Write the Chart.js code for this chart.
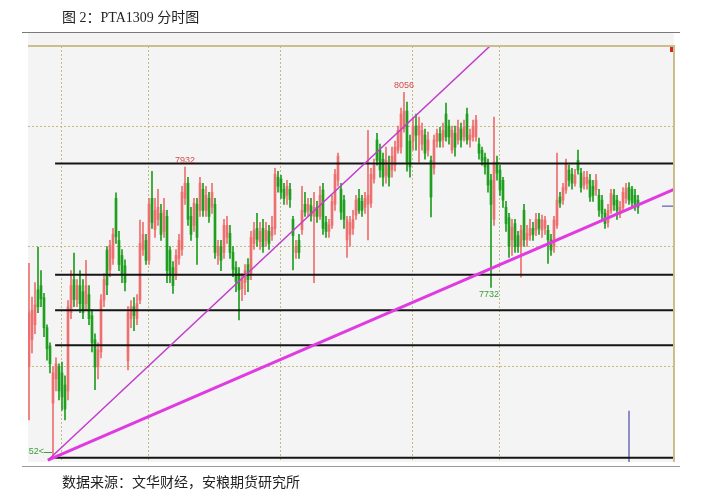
<!DOCTYPE html>
<html><head><meta charset="utf-8">
<script src="https://cdn.jsdelivr.net/npm/chart.js@4"></script>
<style>
html,body{margin:0;padding:0;background:#fff;}
#wrap{position:relative;width:701px;height:500px;overflow:hidden;}
canvas{position:absolute;left:0;top:0;}
.t{position:absolute;font-family:"Liberation Serif","Noto Sans CJK SC",serif;font-size:14px;color:#222;white-space:nowrap;line-height:16px;}
.rule{position:absolute;left:22px;width:658px;}
</style></head>
<body><div id="wrap">
<canvas id="c" width="701" height="500"></canvas>
<div class="t" style="left:62px;top:10px">图 2：PTA1309 分时图</div>
<div class="rule" style="top:32px;height:1px;background:#7a7a7a"></div>
<div class="rule" style="top:466px;height:1px;background:#999"></div>
<div class="t" style="left:62px;top:475px">数据来源：文华财经，安粮期货研究所</div>
</div>
<script>
// ---- data (PTA1309 one-minute candles, price units) ----
const opens = [7600,7645,7670,7728,7735,7715,7665,7635,7540,7580,7600,7590,7570,7560,7690,7745,7712,7735,7725,7705,
7720,7685,7645,7600,7625,7711,7794,7761,7780,7880,7810,7785,7768,7610,7680,7700,7680,7711,7795,7810,
7777,7880,7828,7845,7855,7825,7850,7794,7765,7755,7780,7795,7880,7905,7850,7835,7870,7860,7895,7860,
7880,7865,7870,7785,7800,7790,7815,7822,7790,7765,7755,7730,7740,7770,7755,7805,7830,7808,7830,7810,
7825,7818,7830,7915,7912,7895,7885,7895,7845,7790,7810,7828,7870,7860,7868,7850,7865,7850,7894,7840,
7825,7835,7870,7910,7895,7877,7811,7820,7830,7852,7880,7875,7865,7870,7872,7912,7977,7960,7945,7918,
7935,7927,7935,7960,7965,7995,8025,7975,7975,8000,7985,7970,7985,7960,7943,7930,7975,7987,7977,8020,
8000,7960,7988,7977,7995,7982,8020,7977,7982,7982,7970,7960,7948,7935,7910,7845,7940,7927,7910,7865,
7848,7811,7838,7818,7800,7860,7811,7818,7830,7827,7845,7827,7830,7827,7811,7800,7835,7882,7877,7894,
7927,7920,7905,7943,7922,7902,7905,7910,7900,7894,7885,7877,7855,7840,7860,7885,7877,7855,7865,7880,
7898,7895,7885,7877];
const highs = [7772,7716,7740,7799,7760,7722,7670,7640,7600,7615,7605,7608,7585,7710,7760,7789,7745,7760,7745,7777,
7735,7695,7655,7640,7720,7755,7800,7810,7830,7889,7825,7795,7778,7700,7710,7715,7720,7844,7840,7820,
7880,7925,7880,7895,7870,7880,7860,7800,7775,7795,7820,7900,7932,7915,7865,7880,7880,7915,7905,7900,
7890,7905,7880,7810,7810,7845,7850,7835,7800,7775,7765,7755,7770,7780,7825,7840,7855,7840,7845,7840,
7835,7850,7930,7925,7918,7905,7910,7905,7850,7810,7820,7900,7890,7880,7880,7890,7875,7900,7905,7850,
7845,7885,7928,7955,7905,7885,7850,7850,7860,7885,7895,7885,7890,7993,7930,7945,7988,7970,7955,7965,
7950,7965,7975,8000,8030,8056,8040,7985,8015,8020,8015,8005,7995,7990,7950,7985,7995,7998,8005,8038,
8010,8000,8000,8010,8005,8010,8030,7995,8010,8018,7980,7965,7955,7945,7920,8015,7950,7935,7915,7875,
7855,7845,7845,7825,7835,7870,7835,7845,7840,7855,7855,7852,7850,7835,7820,7850,7955,7890,7905,7945,
7935,7930,7928,7960,7930,7925,7925,7920,7910,7920,7895,7885,7862,7870,7895,7895,7885,7875,7898,7905,
7906,7900,7895,7885];
const lows = [7512,7623,7655,7690,7700,7650,7611,7590,7452,7560,7545,7528,7512,7545,7680,7700,7700,7690,7680,7695,
7670,7625,7562,7580,7615,7700,7720,7750,7770,7805,7760,7740,7726,7595,7665,7660,7670,7705,7785,7770,
7770,7830,7815,7835,7810,7815,7740,7740,7722,7745,7770,7785,7870,7835,7810,7825,7770,7850,7850,7850,
7840,7855,7780,7770,7760,7780,7805,7780,7750,7725,7678,7710,7720,7725,7745,7795,7800,7795,7790,7800,
7795,7810,7820,7890,7880,7870,7870,7865,7761,7780,7780,7820,7850,7850,7842,7740,7840,7845,7820,7815,
7815,7830,7860,7900,7845,7830,7782,7800,7820,7845,7855,7850,7855,7811,7865,7905,7935,7915,7900,7905,
7900,7915,7925,7955,7955,7990,7925,7915,7960,7960,7940,7960,7945,7950,7849,7920,7965,7965,7965,7975,
7970,7955,7950,7970,7965,7975,7970,7965,7975,7975,7945,7935,7920,7890,7732,7835,7910,7885,7865,7825,
7782,7785,7790,7790,7749,7800,7800,7810,7810,7818,7820,7815,7820,7772,7785,7790,7830,7865,7870,7888,
7900,7895,7900,7920,7890,7895,7895,7875,7875,7885,7850,7845,7830,7832,7855,7860,7845,7848,7860,7872,
7870,7865,7860,7855];
const closes = [7690,7694,7703,7700,7713,7665,7630,7605,7590,7605,7560,7550,7530,7700,7735,7712,7735,7705,7690,7735,
7680,7640,7600,7628,7711,7745,7736,7802,7820,7816,7770,7753,7740,7690,7700,7685,7705,7805,7820,7777,
7870,7840,7860,7865,7820,7860,7760,7755,7735,7785,7810,7890,7905,7845,7820,7872,7815,7905,7860,7885,
7850,7890,7790,7800,7777,7835,7835,7790,7762,7742,7728,7745,7760,7745,7815,7827,7812,7825,7800,7827,
7805,7832,7920,7900,7890,7880,7900,7878,7818,7800,7790,7860,7857,7870,7852,7865,7850,7885,7830,7825,
7836,7875,7920,7950,7857,7845,7844,7840,7845,7877,7860,7860,7880,7885,7920,7935,7943,7927,7915,7943,
7915,7950,7965,7993,8020,8025,7940,7932,8000,7985,8000,7993,7955,7977,7882,7977,7988,7975,7993,7982,
7982,7993,7965,7998,7977,7998,7977,7985,8000,8010,7955,7943,7932,7902,7870,7940,7922,7894,7877,7838,
7800,7832,7800,7800,7827,7811,7822,7830,7820,7845,7830,7844,7844,7811,7794,7844,7877,7872,7898,7938,
7910,7905,7918,7927,7898,7915,7915,7882,7885,7910,7860,7855,7838,7860,7888,7869,7860,7865,7890,7896,
7877,7873,7870,7865];
const timeGrid = [11, 40, 84, 128, 157];          // session time divisions (candle index)
const priceGrid = [7600, 7800, 8000];             // dotted price grid
const levelLines = [7938, 7753, 7694, 7636, 7449]; // drawn support/resistance lines
const levelStart = 8.7, axisEnd = 215;
const trendSteep = [[6.3, 7445], [153.7, 8133]];
const trendFlat = [[6.3, 7445], [215, 7895]];
const lastPrice = 7867;
const volTick = [7442, 7527];
const markIdx = [125, 52, 154, 8];
const markVal = [8056, 7932, 7732, 7452];

const UP = '#ee6f6f', DOWN = '#1f9e1f';
const colorOf = i => closes[i] >= opens[i] ? UP : DOWN;

const bodies = opens.map((o, i) => ({x: i, y: [o, closes[i]]}));
const wicks = opens.map((o, i) => ({x: i, y: [lows[i], highs[i]]}));
const pts = arr => arr.map(p => ({x: p[0], y: p[1]}));

const lineDs = (data, color, width) => ({type: 'line', data, borderColor: color, borderWidth: width,
  pointRadius: 0, fill: false, tension: 0, order: 0});

const datasets = [
  lineDs(pts(trendSteep), '#c23ccb', 1.5),
  lineDs(pts(trendFlat), '#e03be0', 3),
  ...levelLines.map(v => lineDs([{x: levelStart, y: v}, {x: axisEnd, y: v}], '#151515', 2)),
  lineDs([{x: 211, y: lastPrice}, {x: 214.7, y: lastPrice}], '#5a5ab4', 1.2),
  lineDs([{x: 200, y: volTick[0]}, {x: 200, y: volTick[1]}], '#4a4aa8', 1.2),
  {type: 'bar', data: bodies, barThickness: 2, grouped: false, minBarLength: 1, borderWidth: 0,
    backgroundColor: c => colorOf(c.dataIndex), order: 1},
  {type: 'bar', data: wicks, barThickness: 1, grouped: false, borderWidth: 0,
    backgroundColor: c => colorOf(c.dataIndex), order: 2}
];

const decor = {
  id: 'decor',
  beforeDraw(chart) {
    const {ctx, chartArea: a} = chart;
    ctx.save();
    ctx.fillStyle = '#f4f4f4';
    ctx.fillRect(a.left, 33, a.right - a.left, a.bottom - 33);
    ctx.restore();
  },
  afterDatasetsDraw(chart) {
    const {ctx, chartArea: a, scales: {x, y}} = chart;
    ctx.save();
    ctx.beginPath(); ctx.rect(a.left, a.top, a.right - a.left, a.bottom - a.top); ctx.clip();
    ctx.font = '9px "Liberation Sans", Arial, sans-serif';
    // high labels
    ctx.fillStyle = '#d44c4c'; ctx.textAlign = 'center'; ctx.textBaseline = 'bottom';
    for (let k = 0; k < 2; k++) ctx.fillText(String(markVal[k]), x.getPixelForValue(markIdx[k]), y.getPixelForValue(markVal[k]) - 2);
    // low labels
    ctx.fillStyle = '#3a9a3a'; ctx.textBaseline = 'top';
    ctx.fillText(String(markVal[2]), x.getPixelForValue(markIdx[2]) - 2, y.getPixelForValue(markVal[2]) + 3);
    const lx = x.getPixelForValue(markIdx[3]), ly = y.getPixelForValue(markVal[3]) - 4;
    ctx.textAlign = 'right'; ctx.textBaseline = 'middle';
    ctx.fillText(markVal[3] + '<', lx - 9, ly);
    ctx.strokeStyle = '#3a9a3a'; ctx.lineWidth = 1;
    ctx.beginPath(); ctx.moveTo(lx - 9, ly + 0.5); ctx.lineTo(lx - 1, ly + 0.5); ctx.stroke();
    ctx.restore();
    // frame
    ctx.save();
    ctx.strokeStyle = '#cbbd8c'; ctx.lineWidth = 2;
    ctx.beginPath(); ctx.moveTo(a.left, a.top); ctx.lineTo(a.right, a.top); ctx.lineTo(a.right, a.bottom); ctx.stroke();
    ctx.fillStyle = '#d8261c';
    ctx.fillRect(a.right - 4, a.top + 1, 3, 5);
    ctx.restore();
  }
};

new Chart(document.getElementById('c'), {
  type: 'bar',
  data: {datasets},
  options: {
    responsive: false, animation: false, devicePixelRatio: 1,
    layout: {padding: {left: 28, top: 46, right: 27, bottom: 38}},
    plugins: {legend: {display: false}, tooltip: {enabled: false}},
    scales: {
      x: {type: 'linear', min: -0.33, max: axisEnd, offset: false,
        grid: {offset: false, color: '#c4ba80', lineWidth: 1, drawTicks: false},
        border: {display: false, dash: [2, 2]},
        ticks: {display: false},
        afterBuildTicks: s => { s.ticks = timeGrid.map(v => ({value: v})); }},
      y: {type: 'linear', min: 7442, max: 8133, beginAtZero: false,
        grid: {color: '#c4ba80', lineWidth: 1, drawTicks: false},
        border: {display: false, dash: [2, 2]},
        ticks: {display: false},
        afterBuildTicks: s => { s.ticks = priceGrid.map(v => ({value: v})); }}
    }
  },
  plugins: [decor]
});
</script>
</body></html>
